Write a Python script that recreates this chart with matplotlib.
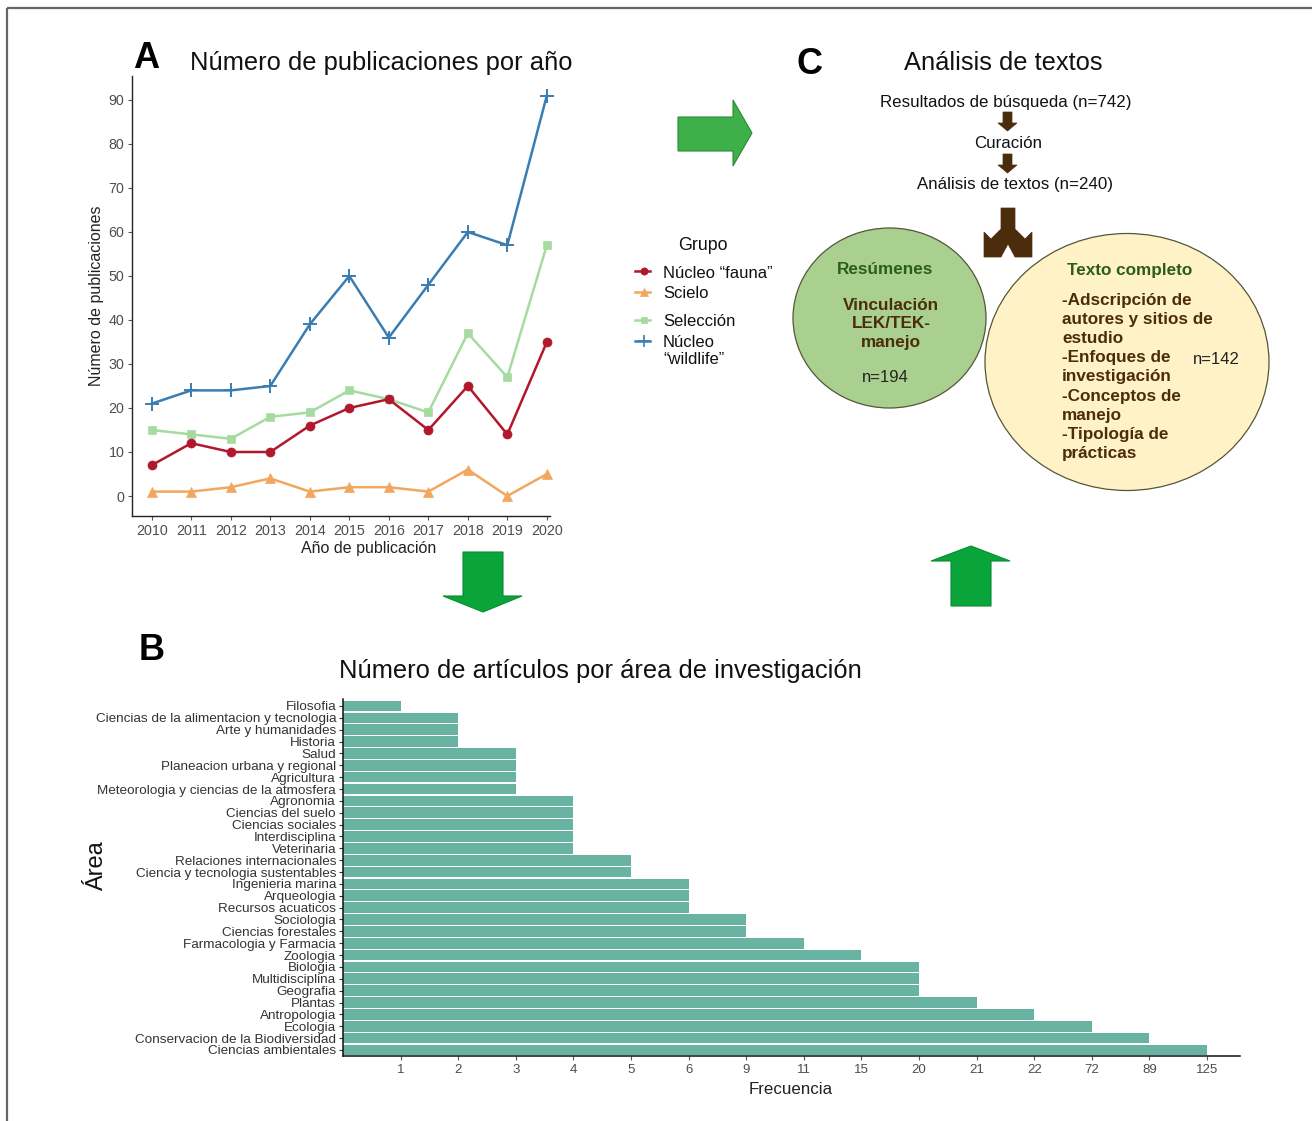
import matplotlib
matplotlib.use("Agg")
import matplotlib.pyplot as plt
from matplotlib.patches import Polygon, Ellipse

plt.rcParams['font.family'] = ['Liberation Sans', 'DejaVu Sans']

# ---------------- DATA ----------------
years = [2010, 2011, 2012, 2013, 2014, 2015, 2016, 2017, 2018, 2019, 2020]
nucleo_fauna = [7, 12, 10, 10, 16, 20, 22, 15, 25, 14, 35]
scielo = [1, 1, 2, 4, 1, 2, 2, 1, 6, 0, 5]
seleccion = [15, 14, 13, 18, 19, 24, 22, 19, 37, 27, 57]
nucleo_wildlife = [21, 24, 24, 25, 39, 50, 36, 48, 60, 57, 91]
group_labels = ['Núcleo “fauna”', 'Scielo', 'Selección', 'Núcleo\n“wildlife”']
y_ticks_a = [0, 10, 20, 30, 40, 50, 60, 70, 80, 90]

areas = ['Filosofia', 'Ciencias de la alimentacion y tecnologia', 'Arte y humanidades',
         'Historia', 'Salud', 'Planeacion urbana y regional', 'Agricultura',
         'Meteorologia y ciencias de la atmosfera', 'Agronomia', 'Ciencias del suelo',
         'Ciencias sociales', 'Interdisciplina', 'Veterinaria', 'Relaciones internacionales',
         'Ciencia y tecnologia sustentables', 'Ingenieria marina', 'Arqueologia',
         'Recursos acuaticos', 'Sociologia', 'Ciencias forestales', 'Farmacologia y Farmacia',
         'Zoologia', 'Biologia', 'Multidisciplina', 'Geografia', 'Plantas', 'Antropologia',
         'Ecologia', 'Conservacion de la Biodiversidad', 'Ciencias ambientales']
frecuencia = [1, 2, 2, 2, 3, 3, 3, 3, 4, 4, 4, 4, 4, 5, 5, 6, 6, 6, 9, 9, 11, 15,
              20, 20, 20, 21, 22, 72, 89, 125]
freq_levels = [1, 2, 3, 4, 5, 6, 9, 11, 15, 20, 21, 22, 72, 89, 125]

flow_steps = ['Resultados de búsqueda (n=742)', 'Curación', 'Análisis de textos (n=240)']
texto_items = ['-Adscripción de', 'autores y sitios de', 'estudio', '-Enfoques de',
               'investigación', '-Conceptos de', 'manejo', '-Tipología de', 'prácticas']

# ---------------- FIGURE ----------------
W, H = 1312, 1121
fig = plt.figure(figsize=(W / 100, H / 100), dpi=100)
fig.patch.set_facecolor('white')

ax0 = fig.add_axes([0, 0, 1, 1], zorder=0)
ax0.set_xlim(0, W)
ax0.set_ylim(H, 0)
ax0.axis('off')

ax0.plot([7, 7], [8, H], color='#666666', lw=1.6, solid_capstyle='butt')
ax0.plot([7, W], [8, 8], color='#666666', lw=1.6, solid_capstyle='butt')


def fx(px):
    return px / W


def fy(py):
    return (H - py) / H


# ---------------- PANEL A ----------------
axA = fig.add_axes([fx(132), fy(516), (550 - 132) / W, (516 - 76) / H], zorder=2)
axA.patch.set_alpha(0)
colors = ['#b2182b', '#f2a65e', '#a6dba0', '#3a7db2']
markers = ['o', '^', 's', '+']
msizes = [6.5, 6.5, 6, 10]
series = [nucleo_fauna, scielo, seleccion, nucleo_wildlife]
zorders = [4, 3, 2, 5]
for s, c, m, ms, z in zip(series, colors, markers, msizes, zorders):
    axA.plot(years, s, color=c, lw=1.8, marker=m, ms=ms, mew=1.4 if m == '+' else 0.5,
             mec=c, zorder=z, clip_on=False)
axA.set_xlim(2009.5, 2020.08)
axA.set_ylim(-4.545, 95.45)
axA.set_xticks(years)
axA.set_yticks(y_ticks_a)
for sp in ['top', 'right']:
    axA.spines[sp].set_visible(False)
for sp in ['left', 'bottom']:
    axA.spines[sp].set_color('#222222')
    axA.spines[sp].set_linewidth(1.0)
axA.tick_params(axis='both', colors='#555555', labelcolor='#4d4d4d', labelsize=10.3,
                length=3, width=0.8, pad=2.5)
axA.set_ylabel('Número de publicaciones', fontsize=11.5, color='#222222', labelpad=3)
ax0.text(369, 549, 'Año de publicación', fontsize=11.5, ha='center', va='center',
         color='#222222')

ax0.text(146, 59, 'A', fontsize=26, fontweight='bold', ha='center', va='center')
ax0.text(381, 63, 'Número de publicaciones por año', fontsize=18.4, ha='center', va='center',
         color='#111111')

# legend (manual)
ax0.text(703, 245, 'Grupo', fontsize=12.8, ha='center', va='center', color='#111111')
leg_y = [271, 292, 320, 341]
text_y = [274, 294, 322, 351]
for c, m, ms, ly, ty, lab in zip(colors, markers, msizes, leg_y, text_y, group_labels):
    ax0.plot([635, 650], [ly, ly], color=c, lw=1.8)
    ax0.plot([644], [ly], color=c, marker=m, ms=ms * 0.8, mew=1.2 if m == '+' else 0.5, mec=c)
    ax0.text(663, ty, lab, fontsize=12, ha='left', va='center', color='#111111',
             linespacing=1.15)

# ---------------- ARROWS ----------------
ax0.add_patch(Polygon([(678, 117), (733, 117), (733, 100), (752, 133), (733, 166), (733, 151),
                       (678, 151)], closed=True, facecolor='#3eb049', edgecolor='#2d8a36',
                      lw=0.8, zorder=3))
ax0.add_patch(Polygon([(463, 552), (503, 552), (503, 596), (522, 596), (483, 612), (443, 596),
                       (463, 596)], closed=True, facecolor='#0aa53a', edgecolor='#0a8a30',
                      lw=0.8, zorder=3))
ax0.add_patch(Polygon([(951, 606), (991, 606), (991, 561), (1010, 561), (971, 546), (931, 561),
                       (951, 561)], closed=True, facecolor='#0aa53a', edgecolor='#0a8a30',
                      lw=0.8, zorder=3))

# ---------------- PANEL C ----------------
ax0.text(809, 64, 'C', fontsize=26, fontweight='bold', ha='center', va='center')
ax0.text(1003, 63, 'Análisis de textos', fontsize=18.4, ha='center', va='center',
         color='#111111')
flow_y = [102, 144, 185]
flow_x = [1006, 1008, 1015]
for t, xx, yy in zip(flow_steps, flow_x, flow_y):
    ax0.text(xx, yy, t, fontsize=12.2, ha='center', va='center', color='#111111')

brown = '#4b2c0c'
for top in [112, 154]:
    ax0.add_patch(Polygon([(1003, top), (1012, top), (1012, top + 11), (1017, top + 11),
                           (1007.5, top + 19), (998, top + 11), (1003, top + 11)],
                          closed=True, facecolor=brown, edgecolor=brown, lw=0.5))
cx = 1008
half = [(7, 208), (7, 229), (17, 239), (24, 232), (24, 257), (7, 257), (0, 244)]
pts = [(cx + dx, y) for dx, y in half] + [(cx - dx, y) for dx, y in reversed(half[:-1])]
ax0.add_patch(Polygon(pts, closed=True, facecolor=brown, edgecolor=brown, lw=0.5))

ax0.add_patch(Ellipse((889.5, 318), 193, 180, facecolor='#a9d08e', edgecolor='#55553a',
                      lw=0.9, zorder=2))
ax0.add_patch(Ellipse((1127, 362), 284, 257, facecolor='#fff2c6', edgecolor='#55553a',
                      lw=0.9, zorder=2))

dgreen = '#2b5e1a'
fs_c = 12.3
ax0.text(885, 269, 'Resúmenes', fontsize=fs_c, fontweight='bold', color=dgreen,
         ha='center', va='center', zorder=4)
for t, yy in zip(['Vinculación', 'LEK/TEK-', 'manejo'], [305, 324, 343]):
    ax0.text(891, yy, t, fontsize=fs_c, fontweight='bold', color=brown, ha='center',
             va='center', zorder=4)
ax0.text(885, 378, 'n=194', fontsize=12, color='#222222', ha='center', va='center', zorder=4)

ax0.text(1130, 271, 'Texto completo', fontsize=fs_c, fontweight='bold', color=dgreen,
         ha='center', va='center', zorder=4)
for i, t in enumerate(texto_items):
    ax0.text(1062, 300 + i * 19.2, t, fontsize=fs_c, fontweight='bold', color=brown,
             ha='left', va='center', zorder=4)
ax0.text(1193, 359, 'n=142', fontsize=12, color='#222222', ha='left', va='center', zorder=4)

# ---------------- PANEL B ----------------
axB = fig.add_axes([fx(343), fy(1056), (1240 - 343) / W, (1056 - 699) / H], zorder=2)
axB.patch.set_alpha(0)
bar_len = [freq_levels.index(v) + 1 for v in frecuencia]
ypos = list(range(len(areas)))
axB.barh(ypos, bar_len, height=0.9, color='#69b3a2', edgecolor='none', left=0)
axB.set_xlim(0, 897 / 57.6)
axB.set_ylim(29.51, -0.59)
axB.set_yticks(ypos)
axB.set_yticklabels(areas)
axB.set_xticks(range(1, len(freq_levels) + 1))
axB.set_xticklabels([str(v) for v in freq_levels])
for sp in ['top', 'right']:
    axB.spines[sp].set_visible(False)
for sp in ['left', 'bottom']:
    axB.spines[sp].set_color('#111111')
    axB.spines[sp].set_linewidth(1.1)
axB.tick_params(axis='y', colors='#333333', labelcolor='#333333', labelsize=9.7,
                length=3, width=0.8, pad=2)
axB.tick_params(axis='x', colors='#555555', labelcolor='#4d4d4d', labelsize=9.5,
                length=3, width=0.8, pad=3)
ax0.text(791, 1089, 'Frecuencia', fontsize=12.2, ha='center', va='center', color='#222222')
ax0.text(97, 866, 'Área', fontsize=17, rotation=90, ha='center', va='center', color='#111111')

ax0.text(152, 650, 'B', fontsize=26, fontweight='bold', ha='center', va='center')
ax0.text(600, 671, 'Número de artículos por área de investigación', fontsize=18.4,
         ha='center', va='center', color='#111111')

fig.savefig('out.png', dpi=100, facecolor='white')
